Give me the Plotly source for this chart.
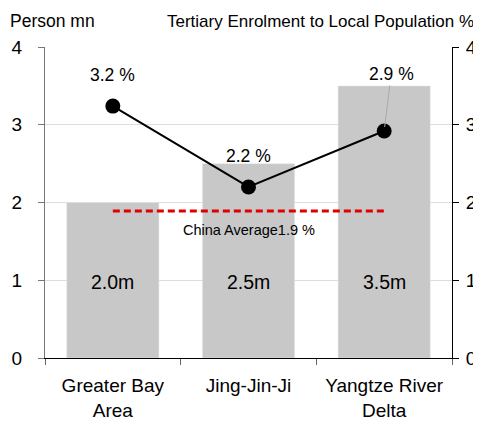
import plotly.graph_objects as go

categories = ["Greater Bay<br>Area", "Jing-Jin-Ji", "Yangtze River<br>Delta"]
population_mn = [2.0, 2.5, 3.5]
pop_labels = ["2.0m", "2.5m", "3.5m"]
enrolment_pct = [3.24, 2.2, 2.92]
pct_labels = ["3.2 %", "2.2 %", "2.9 %"]
china_avg = 1.89
china_avg_label = "China Average1.9 %"

FONT = "Liberation Sans, Arial, sans-serif"

fig = go.Figure()
fig.add_trace(go.Bar(x=categories, y=population_mn, marker_color="#c8c8c8", width=0.68,
                     showlegend=False, hoverinfo="skip"))
fig.add_trace(go.Scatter(x=[categories[0], categories[-1]], y=[china_avg, china_avg],
                         mode="lines",
                         line=dict(color="#e00000", width=3, dash="7px,4px"),
                         yaxis="y2", showlegend=False))
fig.add_trace(go.Scatter(x=categories, y=enrolment_pct, mode="lines+markers",
                         line=dict(color="black", width=2),
                         marker=dict(color="black", size=15),
                         yaxis="y2", showlegend=False))

ann = []
for c, t in zip(categories, pop_labels):
    ann.append(dict(x=c, y=0.98, xref="x", yref="y", text=t, showarrow=False,
                    font=dict(size=19.5, color="black", family=FONT)))
for i, (c, v, t) in enumerate(zip(categories, enrolment_pct, pct_labels)):
    if i == 2:
        ann.append(dict(x=c, y=v, xref="x", yref="y2", text=t, showarrow=True,
                        ax=7, ay=-57, arrowhead=0, arrowwidth=1, arrowcolor="#aaaaaa",
                        standoff=4, font=dict(size=17.5, color="black", family=FONT)))
    else:
        ann.append(dict(x=c, y=v, xref="x", yref="y2", text=t, showarrow=False,
                        yshift=31, font=dict(size=17.5, color="black", family=FONT)))
ann.append(dict(x=categories[1], y=china_avg, xref="x", yref="y2", text=china_avg_label,
                showarrow=False, yshift=-19, font=dict(size=14.5, color="black", family=FONT)))
ann.append(dict(x=0.0, y=1, xref="paper", yref="paper", xanchor="left", yanchor="bottom",
                text="Person mn", showarrow=False,
                xshift=-37, yshift=14, font=dict(size=17.5, color="black", family=FONT)))
ann.append(dict(x=1, y=1, xref="paper", yref="paper", xanchor="right", yanchor="bottom",
                text="Tertiary Enrolment to Local Population %", showarrow=False,
                xshift=24, yshift=14, font=dict(size=17, color="black", family=FONT)))

fig.update_layout(
    width=473, height=420,
    margin=dict(l=37, r=29, t=39, b=70),
    plot_bgcolor="white", paper_bgcolor="white",
    font=dict(family=FONT, color="black"),
    annotations=ann,
    xaxis=dict(type="category", tickson="boundaries", ticks="outside", ticklen=6,
               tickcolor="#666666", tickangle=0, automargin=False,
               showgrid=False, showline=True, linecolor="black", linewidth=1,
               tickfont=dict(size=19), ticklabelstandoff=10, zeroline=False),
    yaxis=dict(range=[0, 4], dtick=1, showgrid=True, gridcolor="#dddddd", gridwidth=1,
               showline=True, linecolor="#777777", linewidth=1, ticks="outside",
               ticklen=6, tickcolor="#777777", tickfont=dict(size=19), automargin=False,
               ticklabelstandoff=12, zeroline=False),
    yaxis2=dict(range=[0, 4], dtick=1, overlaying="y", side="right", showgrid=False,
                showline=True, linecolor="black", linewidth=1, ticks="outside",
                ticklen=6, tickcolor="black", tickfont=dict(size=19), automargin=False,
                ticklabelstandoff=3, zeroline=False),
)

fig.write_html("out.html")
